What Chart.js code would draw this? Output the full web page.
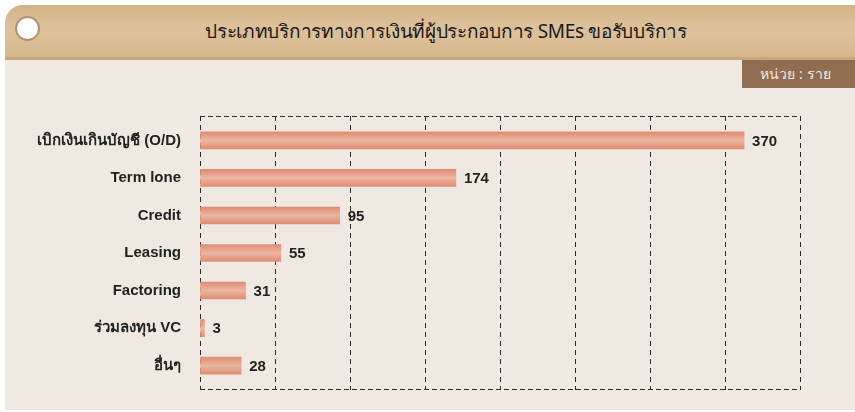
<!DOCTYPE html>
<html>
<head>
<meta charset="utf-8">
<script src="https://cdn.jsdelivr.net/npm/chart.js@4.4.1/dist/chart.umd.min.js"></script>
<style>
  html, body { margin: 0; padding: 0; background: #ffffff; width: 855px; height: 412px; overflow: hidden; }
  #card { position: absolute; left: 5px; top: 5px; width: 850px; height: 405px; background: #efe9e1; border-top-left-radius: 18px; overflow: hidden; }
  #titlebar { position: absolute; left: 0; top: 0; width: 850px; height: 52px;
    background: linear-gradient(180deg, #d3b385 0%, #dcc29c 45%, #d6b88d 100%);
    border-bottom: 3px solid #c6a67c; }
  #hole { position: absolute; left: 10px; top: 11px; width: 21px; height: 21px; border-radius: 50%; background: #fff; border: 2px solid #b4916a; }
  #title { position: absolute; left: 441px; top: 26px; transform: translate(-50%, -50%); white-space: nowrap;
    font-family: "Noto Sans", "Liberation Sans", sans-serif; font-size: 19px; color: #1a1816; letter-spacing: -0.3px; }
  #unit { position: absolute; left: 737px; top: 55px; width: 107px; padding-right: 6px; height: 28px; background: #8f6d51; color: #f3ebe1;
    font-family: "Noto Sans", "Liberation Sans", sans-serif; font-size: 14px; line-height: 28px; text-align: center; }
  #wrap { position: absolute; left: 0; top: 60px; width: 855px; height: 352px; }
</style>
</head>
<body>
<div id="card">
  <div id="titlebar"></div>
  <div id="hole"></div>
  <div id="title">ประเภทบริการทางการเงินที่ผู้ประกอบการ SMEs ขอรับบริการ</div>
  <div id="unit">หน่วย : ราย</div>
</div>
<div id="wrap"><canvas id="c" width="855" height="352"></canvas></div>
<script>
const categories = ["เบิกเงินเกินบัญชี (O/D)", "Term lone", "Credit", "Leasing", "Factoring", "ร่วมลงทุน VC", "อื่นๆ"];
const values = [370, 174, 95, 55, 31, 3, 28];
const axisMax = 408;
const gridStep = 51;

const boxPlugin = {
  id: 'box',
  beforeDatasetsDraw(chart) {
    const {ctx, chartArea: a} = chart;
    ctx.save();
    ctx.strokeStyle = '#2b2b2b';
    ctx.lineWidth = 1;
    ctx.setLineDash([5, 3]);
    ctx.beginPath();
    ctx.moveTo(a.left, Math.round(a.top) + 0.5); ctx.lineTo(a.right, Math.round(a.top) + 0.5);
    ctx.moveTo(a.left, Math.round(a.bottom) - 0.5); ctx.lineTo(a.right, Math.round(a.bottom) - 0.5);
    ctx.stroke();
    ctx.restore();
  }
};

const valuePlugin = {
  id: 'vals',
  afterDatasetsDraw(chart) {
    const {ctx} = chart;
    const meta = chart.getDatasetMeta(0);
    ctx.save();
    ctx.font = 'bold 15px "Liberation Sans", Arial, sans-serif';
    ctx.fillStyle = '#222';
    ctx.textBaseline = 'middle';
    ctx.textAlign = 'left';
    meta.data.forEach((el, i) => {
      ctx.fillText(String(values[i]), el.x + 8, el.y + 1);
    });
    ctx.restore();
  }
};

function barFill(c) {
  const chart = c.chart;
  const ys = chart.scales && chart.scales.y;
  if (!ys || c.dataIndex === undefined) return '#e6a28b';
  const cy = ys.getPixelForValue(c.dataIndex);
  if (!isFinite(cy)) return '#e6a28b';
  const g = chart.ctx.createLinearGradient(0, cy - 8.5, 0, cy + 8.5);
  g.addColorStop(0, '#df8c74');
  g.addColorStop(0.5, '#ebb6a1');
  g.addColorStop(1, '#df8c74');
  return g;
}

new Chart(document.getElementById('c'), {
  type: 'bar',
  data: {
    datasets: [{
      data: values.map((v, i) => ({x: v, y: i})),
      backgroundColor: barFill,
      borderWidth: 0,
      barThickness: 17
    }]
  },
  options: {
    indexAxis: 'y',
    responsive: false,
    animation: false,
    layout: { padding: { left: 0, right: 55, top: 56, bottom: 22 } },
    plugins: { legend: { display: false }, tooltip: { enabled: false } },
    scales: {
      x: {
        type: 'linear', min: 0, max: axisMax,
        ticks: { display: false, stepSize: gridStep },
        grid: { color: '#2b2b2b', lineWidth: 1, drawTicks: false },
        border: { display: false, dash: [5, 4] },
        afterFit(s) { s.height = 0; }
      },
      y: {
        type: 'linear', min: -0.65, max: 6.65, reverse: true, offset: false,
        afterBuildTicks(s) { s.ticks = categories.map((_, i) => ({value: i})); },
        ticks: {
          callback: (v) => categories[v],
          color: '#222', padding: 19,
          font: { family: '"Liberation Sans", Arial, sans-serif', size: 15, weight: 'bold' }
        },
        grid: { display: false, drawTicks: false, offset: false },
        border: { display: false },
        afterFit(s) { s.width = 200; s.paddingTop = 0; s.paddingBottom = 0; }
      }
    }
  },
  plugins: [boxPlugin, valuePlugin]
});
</script>
</body>
</html>
